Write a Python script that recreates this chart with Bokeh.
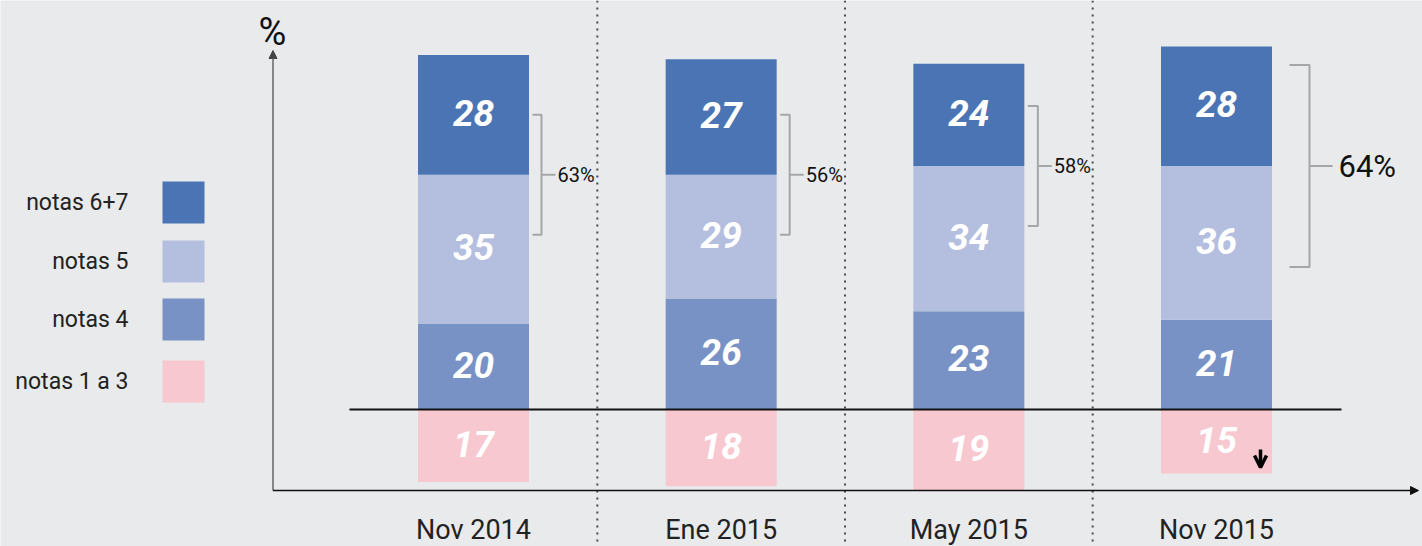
import re
from bokeh.plotting import figure
from bokeh.models import Span, Arrow, NormalHead, OpenHead, ColumnDataSource, Label
from bokeh.core.properties import value
from bokeh.embed import file_html
from bokeh.resources import INLINE

# ---------------- data ----------------
categories = ["Nov 2014", "Ene 2015", "May 2015", "Nov 2015"]
notas_67 = [28, 27, 24, 28]
notas_5 = [35, 29, 34, 36]
notas_4 = [20, 26, 23, 21]
notas_1a3 = [17, 18, 19, 15]
legend_labels = ["notas 6+7", "notas 5", "notas 4", "notas 1 a 3"]
bracket_labels = ["63%", "56%", "58%", "64%"]

# ---------------- style ----------------
C67, C5, C4, C13 = "#4a74b3", "#b4bedf", "#7892c5", "#f8c8d0"
BG = "#e9eaec"
FONT = "Roboto"
W, H = 1422, 546
PX_PER_X = 247.67
PX_PER_Y = 4.27
X0_PX = 473.0   # px of first category centre
Y0_PX = 409.0   # px of the zero line
BAR_W = 111 / PX_PER_X

xs = -X0_PX / PX_PER_X
y_top = Y0_PX / PX_PER_Y


def px_x(px):  # px -> data x
    return xs + px / PX_PER_X


def px_y(py):  # px -> data y
    return y_top - py / PX_PER_Y


def dx(px):
    return px / PX_PER_X


def dy(px):
    return px / PX_PER_Y


p = figure(width=W, height=H,
           x_range=(xs, xs + W / PX_PER_X),
           y_range=(y_top - H / PX_PER_Y, y_top),
           output_backend="svg", toolbar_location=None,
           x_axis_location=None, y_axis_location=None,
           min_border=0, background_fill_color=BG, border_fill_color=BG,
           outline_line_color=None)
p.grid.visible = False

idx = list(range(len(categories)))

# separators
for loc in [i + 0.5 for i in idx[:-1]]:
    p.add_layout(Span(location=loc, dimension="height", line_color="#4a4a4a",
                      line_width=2, line_dash="2 5"))

# bars
src = ColumnDataSource(dict(x=idx, n4=notas_4, n5=notas_5, n67=notas_67,
                            neg=[-v for v in notas_1a3]))
p.vbar_stack(["n4", "n5", "n67"], x="x", width=BAR_W,
             fill_color=[C4, C5, C67], line_color=None, source=src)
p.vbar(x="x", top=0, bottom="neg", width=BAR_W, fill_color=C13,
       line_color=None, source=src)

# value labels
lx, ly, lt = [], [], []
up = dy(2)
for i in idx:
    a, b, c, d = notas_4[i], notas_5[i], notas_67[i], notas_1a3[i]
    lx += [i, i, i, i]
    ly += [a / 2 + up, a + b / 2 + up, a + b + c / 2 + up, -d / 2 + up]
    lt += [str(a), str(b), str(c), str(d)]
p.text(x=lx, y=ly, text=lt, text_align="center", text_baseline="middle",
       text_color="white", text_font=value(FONT), text_font_style="bold italic",
       text_font_size="37px")

# baseline
p.segment(x0=[px_x(349)], x1=[px_x(1341)], y0=[0], y1=[0],
          line_color="#111111", line_width=2)

# axes arrows
p.add_layout(Arrow(end=NormalHead(size=8, fill_color="#444444", line_color="#444444", line_width=1),
                   x_start=px_x(272.5), y_start=px_y(490), x_end=px_x(272.5), y_end=px_y(50),
                   line_color="#666666", line_width=1.5))
p.add_layout(Arrow(end=NormalHead(size=8, fill_color="#111111", line_color="#111111", line_width=1),
                   x_start=px_x(272.5), y_start=px_y(490), x_end=px_x(1418), y_end=px_y(490),
                   line_color="#111111", line_width=1.5))
p.add_layout(Label(x=px_x(272), y=px_y(31), text="%", text_align="center",
                   text_baseline="middle", text_font=FONT, text_font_size="38px",
                   text_color="#111111"))

# category labels
p.text(x=idx, y=[px_y(529)] * len(idx), text=categories, text_align="center",
       text_baseline="middle", text_font=value(FONT), text_font_size="27px",
       text_color="#222222")

# legend
leg_y = [px_y(v) for v in [202, 261, 319, 381]]
p.rect(x=[px_x(183)] * 4, y=leg_y, width=42, height=42, width_units="screen",
       height_units="screen", fill_color=[C67, C5, C4, C13], line_color=None)
p.text(x=[px_x(128)] * 4, y=leg_y, text=legend_labels, text_align="right",
       text_baseline="middle", text_font=value(FONT), text_font_size="23px",
       text_color="#222222")

# brackets
half = [60, 60, 60, 101]
vx = [68, 68.5, 69, 93]
tx = [59, 59, 59, 73]
mlen = [14, 14, 14, 23]
gap = [2, 2, 2, 6]
fsz = ["20px", "20px", "20px", "31px"]
bxs, bys = [], []
for i in idx:
    c = notas_4[i] + notas_5[i]
    h = dy(half[i])
    xv = i + dx(vx[i])
    xt = i + dx(tx[i])
    xm = xv + dx(mlen[i])
    bxs += [[xt, xv, xv, xt], [xv, xm]]
    bys += [[c + h, c + h, c - h, c - h], [c, c]]
    p.text(x=[xm + dx(gap[i])], y=[c], text=[bracket_labels[i]], text_align="left",
           text_baseline="middle", text_font=value(FONT), text_font_size=fsz[i],
           text_color="#111111")
p.multi_line(xs=bxs, ys=bys, line_color="#a6a6a6", line_width=2)

# down arrow on last period
last = idx[-1]
p.add_layout(Arrow(end=OpenHead(size=12, line_width=3.5, line_color="#000000"),
                   x_start=last + dx(44), y_start=-dy(40), x_end=last + dx(44), y_end=-dy(58),
                   line_color="#000000", line_width=3.5))

html = file_html(p, INLINE)
html = re.sub(r"<body([^>]*)>", r'<body\1 style="background-color:%s">' % BG, html, count=1)
open("out.html", "w").write(html)
